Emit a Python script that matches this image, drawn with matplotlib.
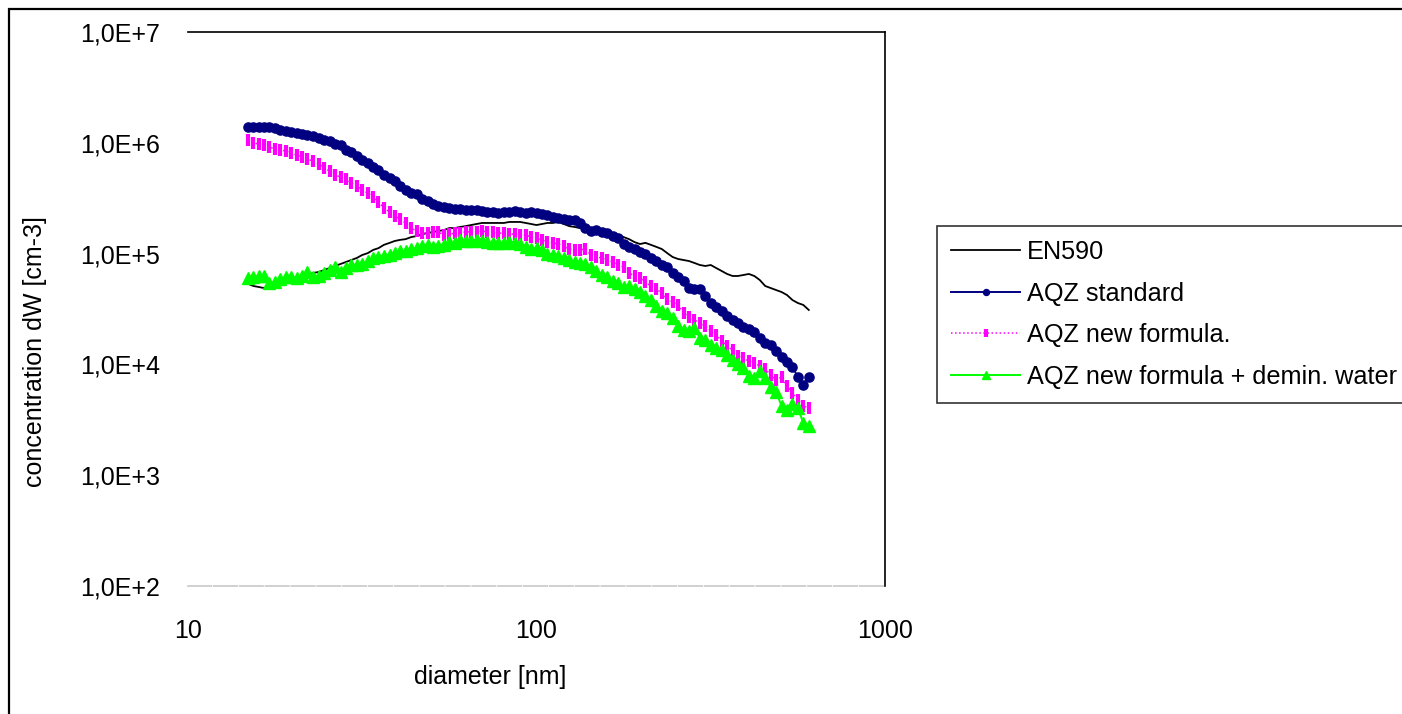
import numpy as np
import matplotlib
matplotlib.use("Agg")
import matplotlib.pyplot as plt
from matplotlib.ticker import FixedLocator, FuncFormatter, NullLocator
from matplotlib.patches import Rectangle

plt.rcParams['font.family'] = ['Liberation Sans', 'DejaVu Sans']

# SMPS channel diameters [nm]
diameter = [14.9, 15.4, 16.0, 16.5, 17.1, 17.8, 18.4, 19.1, 19.8, 20.5,
            21.2, 22.0, 22.8, 23.7, 24.6, 25.5, 26.4, 27.4, 28.4, 29.4,
            30.5, 31.6, 32.8, 34.0, 35.2, 36.5, 37.9, 39.2, 40.6, 42.1,
            43.7, 45.3, 46.9, 48.7, 50.5, 52.3, 54.2, 56.2, 58.3, 60.4,
            62.6, 64.9, 67.3, 69.8, 72.3, 74.9, 77.7, 80.6, 83.5, 86.6,
            89.8, 93.1, 96.5, 100.0, 103.7, 107.5, 111.4, 115.5, 119.7, 124.1,
            128.6, 133.2, 138.2, 143.3, 148.6, 154.0, 159.6, 165.5, 171.5, 177.8,
            184.4, 191.1, 198.1, 205.4, 212.9, 220.7, 228.8, 237.2, 245.8, 254.8,
            264.2, 273.8, 283.9, 294.3, 305.1, 316.2, 327.8, 339.8, 352.3, 365.2,
            378.6, 392.4, 406.8, 421.7, 437.1, 453.2, 469.8, 487.0, 504.8, 523.3,
            542.5, 562.3, 582.9, 604.3]

en590 = [5.32e4, 5.10e4, 4.99e4, 4.89e4, 4.89e4, 4.89e4, 5.32e4, 5.43e4, 5.66e4, 5.78e4,
         6.02e4, 6.28e4, 6.68e4, 6.82e4, 7.11e4, 7.41e4, 7.73e4, 8.06e4, 8.40e4, 8.75e4,
         9.13e4, 9.71e4, 1.01e5, 1.08e5, 1.12e5, 1.20e5, 1.25e5, 1.30e5, 1.33e5, 1.35e5,
         1.41e5, 1.44e5, 1.50e5, 1.53e5, 1.57e5, 1.60e5, 1.63e5, 1.70e5, 1.70e5, 1.74e5,
         1.77e5, 1.81e5, 1.85e5, 1.89e5, 1.89e5, 1.89e5, 1.89e5, 1.89e5, 1.93e5, 1.93e5,
         1.93e5, 1.89e5, 1.85e5, 1.81e5, 1.85e5, 1.89e5, 1.89e5, 1.93e5, 1.85e5, 1.77e5,
         1.74e5, 1.70e5, 1.70e5, 1.67e5, 1.63e5, 1.60e5, 1.53e5, 1.53e5, 1.47e5, 1.41e5,
         1.35e5, 1.27e5, 1.22e5, 1.25e5, 1.20e5, 1.15e5, 1.10e5, 1.01e5, 9.32e4, 8.94e4,
         8.75e4, 8.57e4, 8.23e4, 7.89e4, 7.73e4, 7.89e4, 7.41e4, 6.97e4, 6.55e4, 6.28e4,
         6.28e4, 6.41e4, 6.55e4, 6.28e4, 5.78e4, 5.10e4, 4.89e4, 4.69e4, 4.50e4, 4.23e4,
         3.81e4, 3.58e4, 3.44e4, 3.10e4]

aqz_standard = [1.39e6, 1.39e6, 1.39e6, 1.39e6, 1.39e6, 1.36e6, 1.31e6, 1.28e6, 1.25e6, 1.23e6,
                1.20e6, 1.18e6, 1.15e6, 1.11e6, 1.06e6, 1.04e6, 9.75e5, 9.55e5, 8.61e5, 8.26e5,
                7.60e5, 7.00e5, 6.57e5, 6.05e5, 5.68e5, 5.12e5, 4.81e5, 4.52e5, 4.08e5, 3.75e5,
                3.52e5, 3.45e5, 3.11e5, 2.98e5, 2.80e5, 2.69e5, 2.63e5, 2.58e5, 2.53e5, 2.53e5,
                2.47e5, 2.47e5, 2.47e5, 2.42e5, 2.37e5, 2.37e5, 2.32e5, 2.37e5, 2.37e5, 2.42e5,
                2.37e5, 2.32e5, 2.37e5, 2.32e5, 2.28e5, 2.23e5, 2.14e5, 2.10e5, 2.05e5, 2.01e5,
                2.01e5, 1.89e5, 1.70e5, 1.60e5, 1.63e5, 1.57e5, 1.53e5, 1.44e5, 1.38e5, 1.22e5,
                1.15e5, 1.10e5, 1.03e5, 9.92e4, 9.13e4, 8.57e4, 7.89e4, 7.57e4, 6.68e4, 6.15e4,
                5.66e4, 4.89e4, 4.79e4, 4.79e4, 4.14e4, 3.58e4, 3.30e4, 3.03e4, 2.73e4, 2.52e4,
                2.36e4, 2.18e4, 2.09e4, 1.96e4, 1.73e4, 1.56e4, 1.50e4, 1.32e4, 1.17e4, 1.05e4,
                9.47e3, 7.70e3, 6.52e3, 7.70e3]

aqz_new = [1.06e6, 9.96e5, 9.75e5, 9.55e5, 9.17e5, 8.79e5, 8.61e5, 8.43e5, 8.09e5, 7.76e5,
           7.44e5, 7.14e5, 6.85e5, 6.44e5, 5.92e5, 5.57e5, 5.12e5, 4.91e5, 4.71e5, 4.34e5,
           4.08e5, 3.75e5, 3.52e5, 3.24e5, 2.92e5, 2.58e5, 2.37e5, 2.18e5, 2.05e5, 1.89e5,
           1.70e5, 1.60e5, 1.53e5, 1.53e5, 1.57e5, 1.57e5, 1.47e5, 1.50e5, 1.53e5, 1.53e5,
           1.57e5, 1.57e5, 1.57e5, 1.60e5, 1.57e5, 1.57e5, 1.53e5, 1.53e5, 1.50e5, 1.50e5,
           1.47e5, 1.47e5, 1.41e5, 1.38e5, 1.33e5, 1.27e5, 1.25e5, 1.22e5, 1.17e5, 1.10e5,
           1.08e5, 1.08e5, 1.10e5, 9.71e4, 9.32e4, 9.13e4, 8.75e4, 8.40e4, 7.89e4, 7.57e4,
           6.68e4, 6.28e4, 6.02e4, 5.54e4, 5.10e4, 4.79e4, 4.41e4, 3.89e4, 3.66e4, 3.44e4,
           2.91e4, 2.68e4, 2.52e4, 2.36e4, 2.22e4, 2.00e4, 1.84e4, 1.63e4, 1.47e4, 1.35e4,
           1.19e4, 1.14e4, 1.07e4, 1.03e4, 9.67e3, 9.09e3, 8.02e3, 7.23e3, 7.70e3, 6.39e3,
           5.52e3, 4.77e3, 4.21e3, 4.04e3]

aqz_new_demin = [6.02e4, 6.15e4, 6.28e4, 6.28e4, 5.43e4, 5.54e4, 5.90e4, 6.15e4, 6.15e4, 6.02e4,
                 6.28e4, 6.82e4, 6.15e4, 6.28e4, 6.68e4, 7.11e4, 7.57e4, 6.82e4, 7.41e4, 7.89e4,
                 7.89e4, 8.06e4, 8.57e4, 9.13e4, 9.32e4, 9.51e4, 9.71e4, 1.01e5, 1.06e5, 1.06e5,
                 1.10e5, 1.12e5, 1.17e5, 1.20e5, 1.15e5, 1.17e5, 1.20e5, 1.27e5, 1.25e5, 1.33e5,
                 1.30e5, 1.30e5, 1.33e5, 1.30e5, 1.27e5, 1.25e5, 1.25e5, 1.25e5, 1.27e5, 1.25e5,
                 1.22e5, 1.15e5, 1.10e5, 1.12e5, 1.08e5, 9.92e4, 9.71e4, 9.51e4, 9.13e4, 8.75e4,
                 8.40e4, 8.23e4, 8.06e4, 7.57e4, 6.97e4, 6.41e4, 6.15e4, 5.66e4, 5.43e4, 4.99e4,
                 5.10e4, 4.79e4, 4.50e4, 4.14e4, 3.81e4, 3.37e4, 3.03e4, 2.91e4, 2.62e4, 2.22e4,
                 2.04e4, 2.00e4, 2.13e4, 1.73e4, 1.66e4, 1.50e4, 1.41e4, 1.35e4, 1.22e4, 1.10e4,
                 1.01e4, 9.28e3, 7.86e3, 7.54e3, 8.72e3, 7.54e3, 6.25e3, 5.64e3, 4.21e3, 3.88e3,
                 4.39e3, 4.04e3, 2.96e3, 2.78e3]

x_ticks = [10, 100, 1000]
y_ticks = [1e2, 1e3, 1e4, 1e5, 1e6, 1e7]

W, H = 1402, 714
fig = plt.figure(figsize=(W / 100, H / 100), dpi=100)
ax = fig.add_axes([188 / W, 1 - 586 / H, (885 - 188) / W, (586 - 32) / H])

ax.plot(diameter, en590, color='black', lw=1.3, label='EN590')
ax.plot(diameter, aqz_standard, color='#000080', lw=1.4, marker='o', ms=6.6,
        mec='#000080', label='AQZ standard')
ax.plot(diameter, aqz_new, color='#FF00FF', lw=1.1, ls=':', marker='|', ms=8.5,
        mew=3.0, label='AQZ new formula.')
ax.plot(diameter, aqz_new_demin, color='#00FF00', lw=1.4, marker='^', ms=8.5,
        mec='#00FF00', label='AQZ new formula + demin. water')

ax.set_xscale('log')
ax.set_yscale('log')
ax.set_xlim(10, 1000)
ax.set_ylim(1e2, 1e7)
ax.xaxis.set_major_locator(FixedLocator(x_ticks))
ax.xaxis.set_minor_locator(NullLocator())
ax.yaxis.set_major_locator(FixedLocator(y_ticks))
ax.yaxis.set_minor_locator(NullLocator())
ax.xaxis.set_major_formatter(FuncFormatter(lambda v, p: '%d' % round(v)))
ax.yaxis.set_major_formatter(FuncFormatter(
    lambda v, p: '1,0E+%d' % round(np.log10(v))))
ax.tick_params(axis='both', length=0, labelsize=18)
ax.tick_params(axis='y', pad=20)
ax.tick_params(axis='x', pad=24)

ax.spines['left'].set_visible(False)
ax.spines['top'].set_color('black')
ax.spines['top'].set_linewidth(1.2)
ax.spines['right'].set_color('black')
ax.spines['right'].set_linewidth(1.2)
ax.spines['bottom'].set_color('#c8c8c8')
ax.spines['bottom'].set_linewidth(1.2)
ax.spines['bottom'].set_linestyle((0, (14, 1.5)))

fig.text(490 / W, 1 - 677 / H, 'diameter [nm]', ha='center', va='center', fontsize=18)
fig.text(35 / W, 1 - 352 / H, 'concentration dW [cm-3]', ha='center', va='center',
         rotation=90, fontsize=18)

# legend sits partly outside the figure, as in the original chart
leg = fig.legend(loc='upper left', bbox_to_anchor=(937 / W, 1 - 226 / H),
                 fontsize=18.2, frameon=True, fancybox=False, shadow=False,
                 borderpad=0.55, handlelength=2.75, handletextpad=0.25,
                 labelspacing=0.7, borderaxespad=0, markerscale=0.65)
leg.get_frame().set_edgecolor('black')
leg.get_frame().set_linewidth(1.2)

# outer chart border
fig.patches.append(Rectangle((9 / W, -0.05), 1.2, 1 - 9 / H + 0.05,
                             transform=fig.transFigure, fill=False,
                             edgecolor='black', lw=1.6))

fig.savefig('out.png', dpi=100)
